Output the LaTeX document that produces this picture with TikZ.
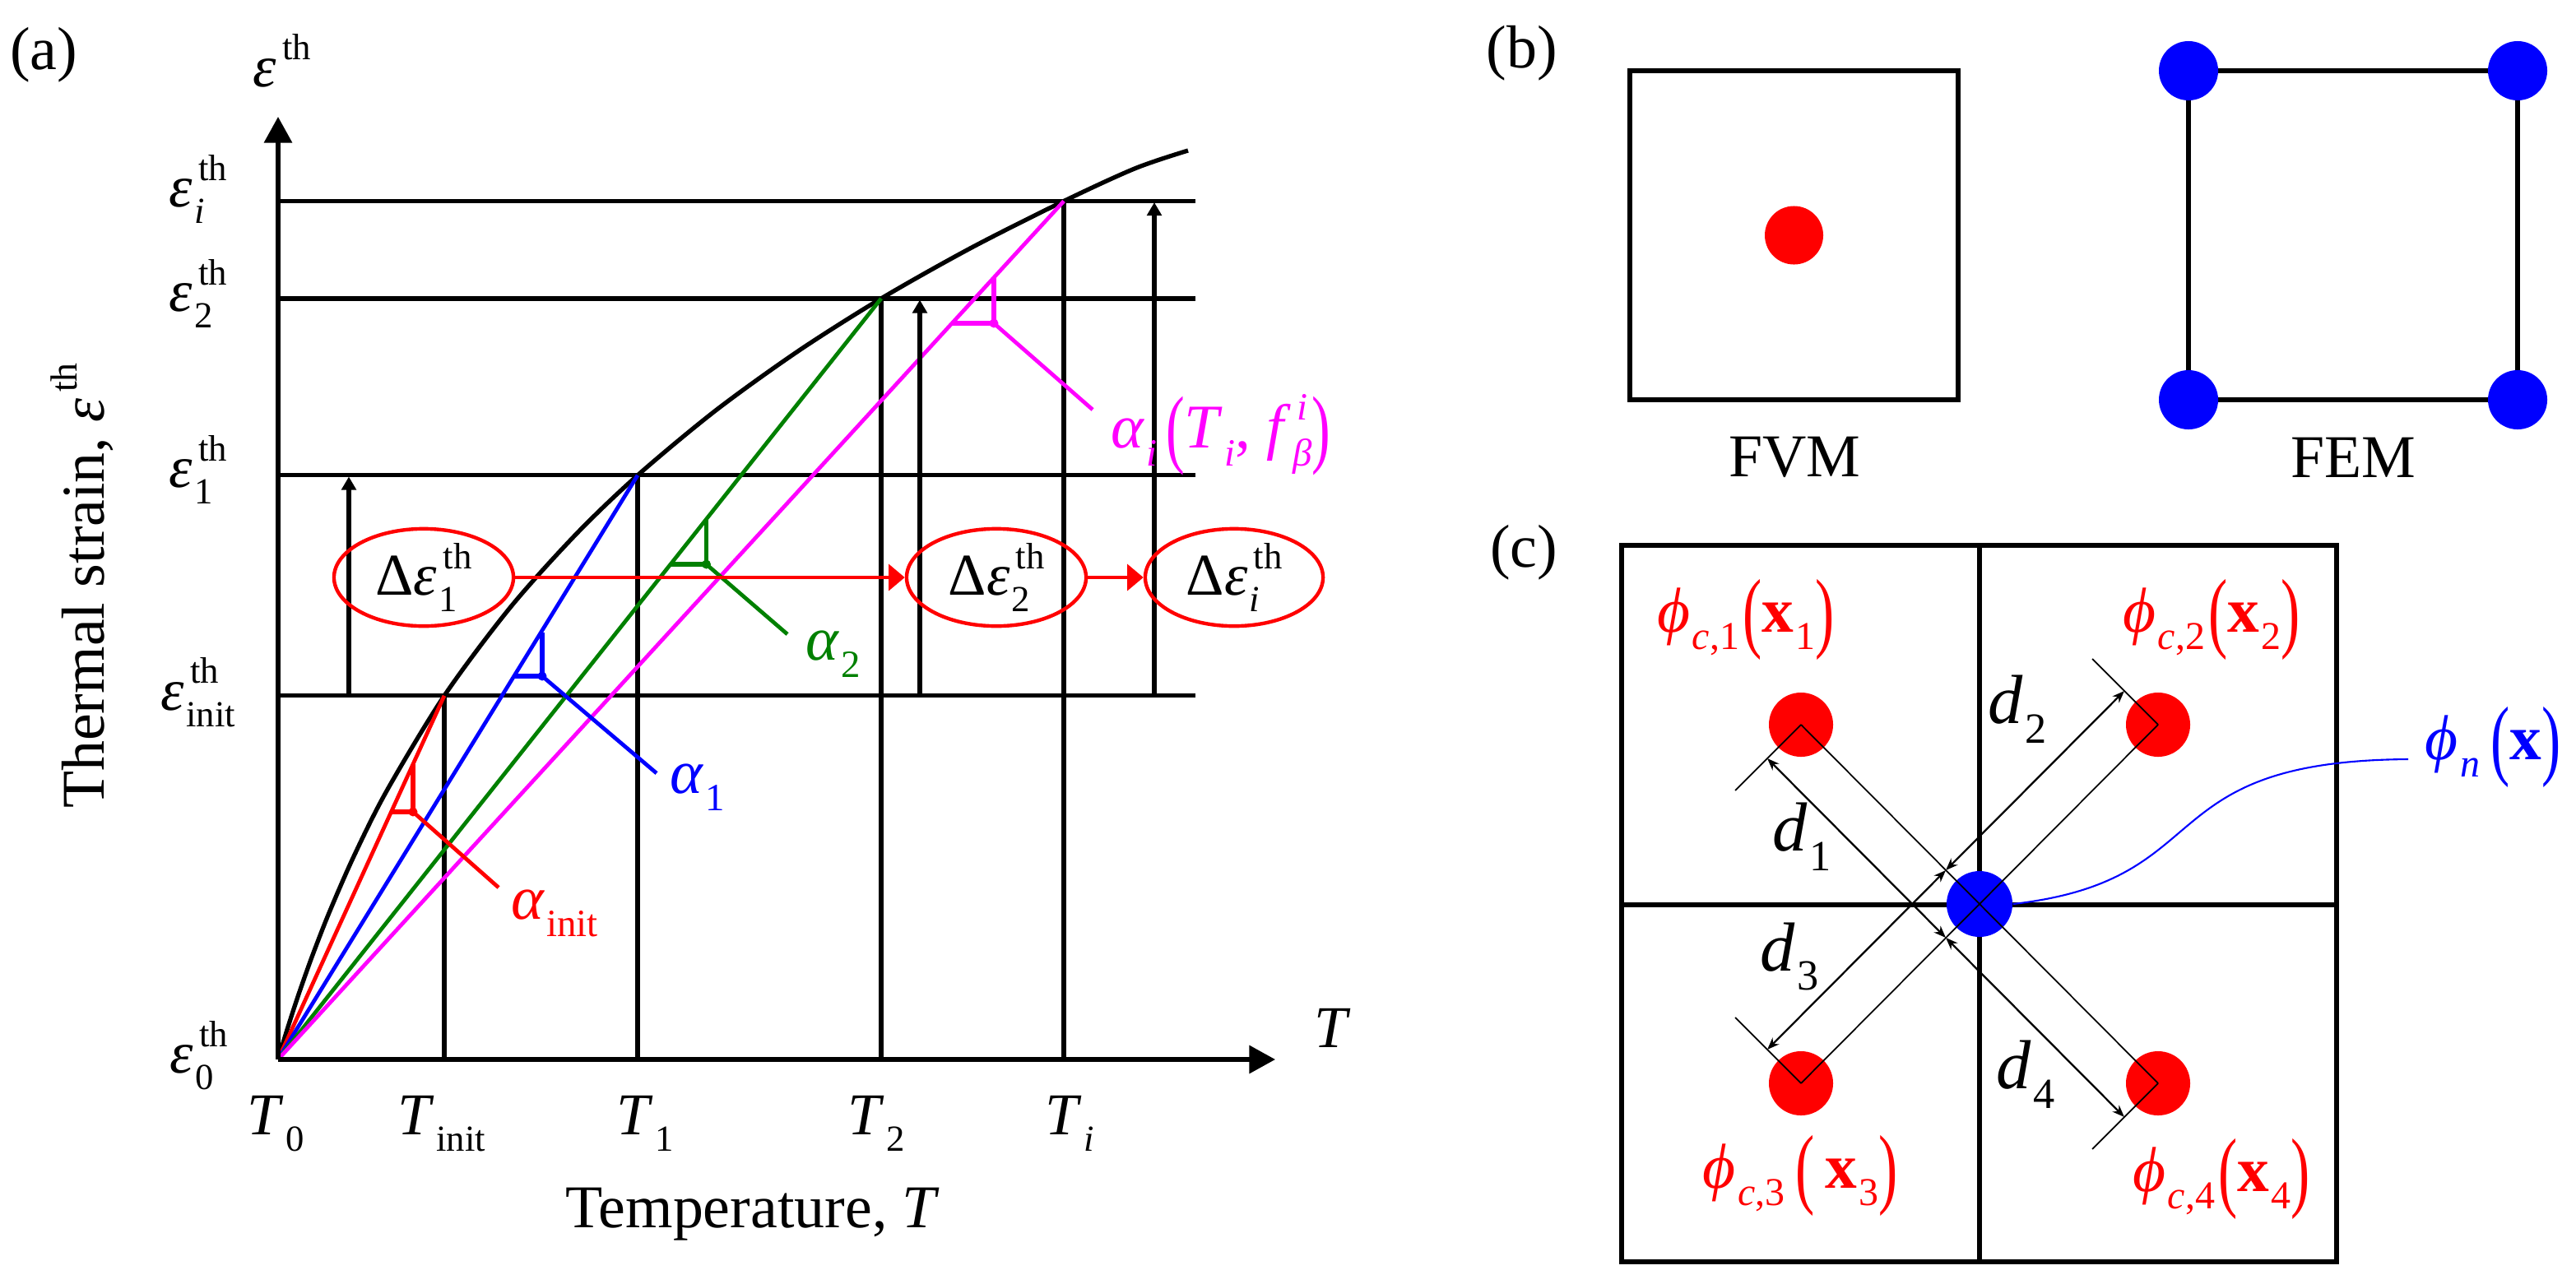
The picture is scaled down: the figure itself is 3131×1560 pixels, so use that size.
\documentclass[tikz,border=0pt]{standalone}
\usepackage{fontspec}
\setmainfont{Liberation Serif}
\usepackage{graphicx}
\usetikzlibrary{arrows.meta,shapes.geometric,calc}
\makeatletter
\newcommand{\scr}{\fontsize{\strip@pt\dimexpr\f@size pt*62/100\relax}{0pt}\selectfont}
\makeatother
\newcommand{\SupSub}[3]{#1\setbox0\hbox{\kern0.1em\raisebox{0.45em}{\scr #2}}\setbox2\hbox{\kern0.03em\raisebox{-0.28em}{\scr #3}}\ifdim\wd0>\wd2 \rlap{\box2}\box0\else\rlap{\box0}\box2\fi}
\newcommand{\Sub}[2]{#1\kern0.03em\raisebox{-0.28em}{\scr #2}}
\newcommand{\Sup}[2]{#1\kern0.1em\raisebox{0.45em}{\scr #2}}
\newcommand{\LPar}{\raisebox{-0.14em}{\scalebox{0.9}[1.4]{(}}}
\newcommand{\RPar}{\raisebox{-0.14em}{\scalebox{0.9}[1.4]{)}}}
\newcommand{\fsz}[1]{\fontsize{#1}{#1}\selectfont}
\newcommand{\eps}{\textit{ε}}
\definecolor{cgreen}{RGB}{0,128,0}
\definecolor{cmag}{RGB}{255,0,255}
\definecolor{cred}{RGB}{255,0,0}
\definecolor{cblue}{RGB}{0,0,255}
\begin{document}
\begin{tikzpicture}[x=0.01cm,y=-0.01cm,
  blk/.style={line width=1.5pt},
  cl/.style={line width=1.35pt},
  lab/.style={inner sep=0pt, font=\fsz{20.5}},
  alab/.style={inner sep=0pt, font=\fsz{21.5}},
  ttl/.style={inner sep=0pt, font=\fsz{21}},
  plab/.style={inner sep=0pt, font=\fsz{22}, text=cred},
  dlab/.style={inner sep=0pt, font=\fsz{24}},
  ell/.style={ellipse, draw=cred, line width=1.25pt, minimum width=2.18cm, minimum height=1.16cm, inner sep=0pt, font=\fsz{20.5}},
  bigtip/.style={-{Triangle[length=9pt,width=9.5pt]}},
  smalltip/.style={-{Triangle[length=4.6pt,width=5pt]}},
  redtip/.style={-{Triangle[length=5.6pt,width=9pt]}},
  dimar/.style={{Stealth[length=4.2pt,width=3.2pt]}-{Stealth[length=4.2pt,width=3.2pt]}, line width=0.65pt},
  thinl/.style={line width=0.5pt},
  rdot/.style={circle, fill=cred, inner sep=0pt, minimum size=0.78cm},
  bdot/.style={circle, fill=cblue, inner sep=0pt, minimum size=0.72cm},
]
\useasboundingbox (0,0) rectangle (3131,1560);

%%%%%%%%%%%%%%%% panel (a)
\node[ttl] (la) at (53,67) {(a)};
\coordinate (O) at (338,1288);
\coordinate (Ytip) at (338,142);
\coordinate (Xtip) at (1550,1288);
\coordinate (Pin) at (540,845.8);
\coordinate (P1) at (775,577.8);
\coordinate (P2) at (1071,362.9);
\coordinate (Pi) at (1293,244.5);

% horizontal levels
\draw[blk] (338,244.5) -- (1453,244.5);
\draw[blk] (338,362.9) -- (1453,362.9);
\draw[blk] (338,577.8) -- (1453,577.8);
\draw[blk] (338,845.8) -- (1453,845.8);
% vertical levels
\draw[blk] (540,1288) -- (Pin);
\draw[blk] (775,1288) -- (P1);
\draw[blk] (1071,1288) -- (P2);
\draw[blk] (1293,1288) -- (Pi);

% curve
\draw[blk] plot[smooth] coordinates {(338,1288) (342,1274.5) (348,1254.9) (356,1229.8) (366,1200) (380,1160.9) (400,1109.7) (430,1041.1) (470,961.5) (540,845.8) (620,738.7) (700,649.6) (775,577.8) (870,498.9) (970,426.9) (1071,362.9) (1180,301.5) (1293,244.5) (1380,204.6) (1444,183)};

% secant lines
\draw[cl,cred] (O) -- (Pin);
\draw[cl,cblue] (O) -- (P1);
\draw[cl,cgreen] (O) -- (P2);
\draw[cl,cmag] (O) -- (Pi);

% slope marks
\draw[blk,cred] (475.6,987) -- (502,987) -- (502,929);
\fill[cred] (502,987) circle[radius=0.055cm];
\coordinate (ra) at (606,1079);
\draw[cl,cred] (502,987) -- (ra);

\draw[blk,cblue] (626,822) -- (659,822) -- (659,769);
\fill[cblue] (659,822) circle[radius=0.055cm];
\coordinate (ba) at (798,940);
\draw[cl,cblue] (659,822) -- (ba);

\draw[blk,cgreen] (816,686) -- (858.5,686) -- (858.5,632);
\fill[cgreen] (858.5,686) circle[radius=0.055cm];
\coordinate (ga) at (957,771);
\draw[cl,cgreen] (858.5,686) -- (ga);

\draw[blk,cmag] (1157,393) -- (1208,393) -- (1208,338);
\fill[cmag] (1208,393) circle[radius=0.055cm];
\coordinate (ma) at (1328,498);
\draw[cl,cmag] (1208,393) -- (ma);

% axes
\draw[blk,bigtip] (O) -- (Ytip);
\draw[blk,bigtip] (O) -- (Xtip);

% increment arrows
\draw[blk,smalltip] (424,845.8) -- (424,579.5);
\draw[blk,smalltip] (1118,845.8) -- (1118,364.5);
\draw[blk,smalltip] (1403,845.8) -- (1403,246);

% ellipses
\node[ell] (e1) at (515,702) {Δ\SupSub{\eps}{th}{1}};
\node[ell] (e2) at (1211,702) {Δ\SupSub{\eps}{th}{2}};
\node[ell, minimum width=2.16cm] (e3) at (1500,702) {Δ\SupSub{\eps}{th}{\textit{i}}};
\draw[cl,cred,redtip] (e1) -- (e2);
\draw[cl,cred,redtip] (e2) -- (e3);

% axis labels
\node[lab] (ey) at (343,74) {\Sup{\eps}{th}};
\node[lab] (ei) at (241,230) {\SupSub{\eps}{th}{\textit{i}}};
\node[lab] (e2l) at (241,357) {\SupSub{\eps}{th}{2}};
\node[lab] (e1l) at (241,571) {\SupSub{\eps}{th}{1}};
\node[lab] (eil) at (241,842) {\SupSub{\eps}{th}{init}};
\node[lab] (e0l) at (242,1283) {\SupSub{\eps}{th}{0}};
\node[lab] (t0) at (335,1366) {\Sub{\textit{T}}{0}};
\node[lab] (tin) at (537,1366) {\Sub{\textit{T}}{init}};
\node[lab] (t1) at (784,1366) {\Sub{\textit{T}}{1}};
\node[lab] (t2) at (1065,1366) {\Sub{\textit{T}}{2}};
\node[lab] (ti) at (1300,1366) {\Sub{\textit{T}}{\textit{i}}};
\node[lab] (tx) at (1620,1250) {\textit{T}};
\node[ttl] (xt) at (915,1476) {Temperature, \textit{T}};
\node[ttl, rotate=90] (yt) at (100,712) {Thermal strain, \Sup{\eps}{th}};

\node[alab,text=cred] (al0) at (674,1110) {\Sub{\textit{α}}{init}};
\node[alab,text=cblue] (al1) at (848,957) {\Sub{\textit{α}}{1}};
\node[alab,text=cgreen] (al2) at (1013,795) {\Sub{\textit{α}}{2}};
\node[alab,text=cmag] (ali) at (1484,529) {\Sub{\textit{α}}{\textit{i}}\kern0.14em\LPar\Sub{\textit{T}}{\textit{i}}, \SupSub{\textit{f}}{\textit{i}}{\textit{β}}\RPar};

%%%%%%%%%%%%%%%% panel (b)
\node[ttl] (lb) at (1850,65) {(b)};
\draw[blk] (1981,86) rectangle (2380,486);
\node[circle, fill=cred, inner sep=0pt, minimum size=0.71cm] (fv) at (2180.5,286) {};
\node[ttl] (fvm) at (2181,556) {FVM};
\draw[blk] (2660,86) rectangle (3060,486);
\node[bdot] (b1) at (2660,86) {};
\node[bdot] (b2) at (3060,86) {};
\node[bdot] (b3) at (2660,486) {};
\node[bdot] (b4) at (3060,486) {};
\node[ttl] (fem) at (2860,556) {FEM};

%%%%%%%%%%%%%%%% panel (c)
\node[ttl] (lc) at (1852,672) {(c)};
\draw[blk] (1971,663) rectangle (2840,1534);
\draw[blk] (2406,663) -- (2406,1534);
\draw[line width=1.9pt] (1971,1100) -- (2840,1100);

\node[rdot] (d1) at (2189,881) {};
\node[rdot] (d2) at (2623,881) {};
\node[rdot] (d3) at (2189,1317) {};
\node[rdot] (d4) at (2623,1317) {};
\node[circle, fill=cblue, inner sep=0pt, minimum size=0.8cm] (nb) at (2406,1099) {};

% diagonals
\draw[thinl] (d1.center) -- (d4.center);
\draw[thinl] (d2.center) -- (d3.center);
% extension lines
\coordinate (x1) at (2109,961);
\coordinate (x4) at (2543,1397);
\coordinate (x2) at (2543,801);
\coordinate (x3) at (2109,1237);
\draw[thinl] (d1.center) -- (x1);
\draw[thinl] (d4.center) -- (x4);
\draw[thinl] (d2.center) -- (x2);
\draw[thinl] (d3.center) -- (x3);
% dimension arrows
\coordinate (a1) at (2148,922);
\coordinate (c14) at (2365,1140);
\coordinate (a4) at (2582,1358);
\coordinate (a2) at (2582,840);
\coordinate (c23) at (2365,1058);
\coordinate (a3) at (2148,1276);
\draw[dimar] (a1) -- (c14);
\draw[dimar] (c14) -- (a4);
\draw[dimar] (c23) -- (a2);
\draw[dimar] (a3) -- (c23);

\node[dlab] (dl1) at (2190,1017) {\Sub{\textit{d}}{1}};
\node[dlab] (dl2) at (2452,862) {\Sub{\textit{d}}{2}};
\node[dlab] (dl3) at (2175,1163) {\Sub{\textit{d}}{3}};
\node[dlab] (dl4) at (2462,1306) {\Sub{\textit{d}}{4}};

\node[plab] (p1) at (2122,753) {\Sub{\textit{ϕ}}{\textit{c},1}\kern0.05em\LPar\Sub{\textbf{x}}{1}\RPar};
\node[plab] (p2) at (2688,753) {\Sub{\textit{ϕ}}{\textit{c},2}\kern0.05em\LPar\Sub{\textbf{x}}{2}\RPar};
\node[plab] (p3) at (2188,1429) {\Sub{\textit{ϕ}}{\textit{c},3}\,\LPar\,\Sub{\textbf{x}}{3}\RPar};
\node[plab] (p4) at (2700,1433) {\Sub{\textit{ϕ}}{\textit{c},4}\kern0.05em\LPar\Sub{\textbf{x}}{4}\RPar};
\node[plab, text=cblue] (pn) at (3030,908) {\Sub{\textit{ϕ}}{\textit{n}}\,\LPar\textbf{x}\RPar};

\draw[cblue, line width=0.6pt] (nb.east) .. controls +(254,-29) and +(-320,2) .. ([xshift=-0.2cm,yshift=-0.15cm]pn.west);
\end{tikzpicture}
\end{document}
